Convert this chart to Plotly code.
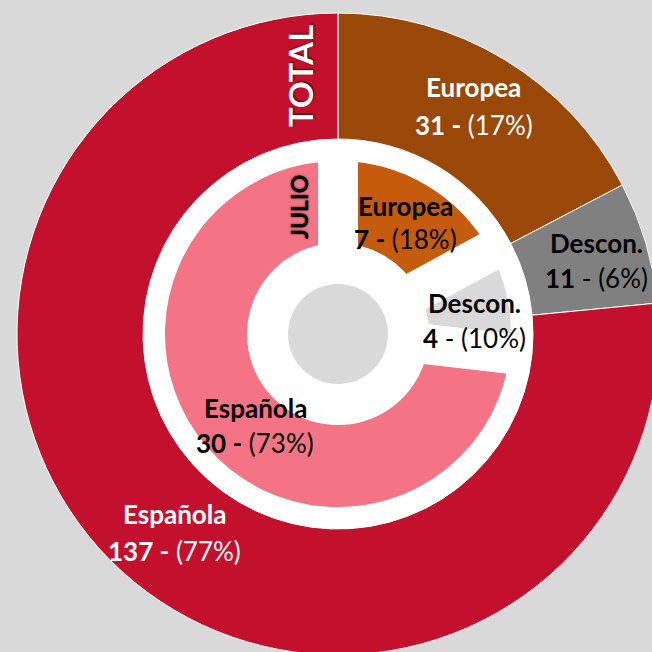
import math
import plotly.graph_objects as go

# ---------------- data ----------------
categories = ["Europea", "Descon.", "Española"]
total_values = [31, 11, 137]
total_pct = ["17%", "6%", "77%"]
julio_values = [7, 4, 30]
julio_pct = ["18%", "10%", "73%"]
ring_titles = ["TOTAL", "JULIO"]

total_colors = ["#994808", "#808080", "#C3112D"]
julio_colors = ["#C55B0C", "#D9D9D9", "#F47385"]
total_text_colors = ["white", "black", "white"]
julio_text_colors = ["black", "black", "black"]

# ---------------- geometry (pixels) ----------------
W = H = 672
CX, CY = 338, 334
R_OUT = 321
R_OUT_HOLE = 195
R_IN = 193          # inner ring outer radius incl. half of the white stroke
R_IN_HOLE = 71
STROKE = 40
R_CENTER = 50
FONT = "Lato"
LABEL_SIZE = 26


def domain(r):
    return dict(x=[(CX - r) / W, (CX + r) / W],
                y=[1 - (CY + r) / H, 1 - (CY - r) / H])


fig = go.Figure()

# white disk behind the inner ring
fig.add_trace(go.Pie(values=[1], marker=dict(colors=["white"], line=dict(width=0)),
                     domain=domain(R_OUT_HOLE + 2), textinfo="none", hoverinfo="skip",
                     sort=False, showlegend=False))
# inner ring (JULIO)
fig.add_trace(go.Pie(labels=categories, values=julio_values, hole=R_IN_HOLE / R_IN,
                     marker=dict(colors=julio_colors, line=dict(color="white", width=STROKE)),
                     domain=domain(R_IN), direction="clockwise", rotation=0, sort=False,
                     textinfo="none", showlegend=False, name="JULIO"))
# grey centre
fig.add_trace(go.Pie(values=[1], marker=dict(colors=["#D9D9D9"], line=dict(width=0)),
                     domain=domain(R_CENTER), textinfo="none", hoverinfo="skip",
                     sort=False, showlegend=False))
# outer ring (TOTAL)
fig.add_trace(go.Pie(labels=categories, values=total_values, hole=R_OUT_HOLE / R_OUT,
                     marker=dict(colors=total_colors, line=dict(color="white", width=1)),
                     domain=domain(R_OUT), direction="clockwise", rotation=0, sort=False,
                     textinfo="none", showlegend=False, name="TOTAL"))

annotations = []


def px_ann(x, y, text, color, size, angle=0, shadow=None):
    f = dict(family=FONT, size=size, color=color)
    if shadow:
        f["shadow"] = shadow
    annotations.append(dict(x=x / W, y=1 - y / H, xref="paper", yref="paper",
                            text=text, showarrow=False, font=f, textangle=angle,
                            xanchor="center", yanchor="middle"))


def ring_labels(values, pcts, colors, r_lab, nudges, gap, bold_dash):
    tot = sum(values)
    cum = 0
    for i, v in enumerate(values):
        mid = (cum + v / 2) / tot * 2 * math.pi
        cum += v
        x = CX + r_lab * math.sin(mid) + nudges[i][0]
        y = CY - r_lab * math.cos(mid) + nudges[i][1]
        px_ann(x, y - gap[i], f"<b>{categories[i]}</b>", colors[i], LABEL_SIZE)
        if bold_dash[i]:
            t2 = f"<b>{v} -</b> ({pcts[i]})"
        else:
            t2 = f"<b>{v}</b> - ({pcts[i]})"
        px_ann(x, y + gap[i], t2, colors[i], LABEL_SIZE)


ring_labels(total_values, total_pct, total_text_colors, (R_OUT + R_OUT_HOLE) / 2,
            [(2, -7), (11, 0), (10, 7)], [19, 17.5, 18.5], [True, False, True])
ring_labels(julio_values, julio_pct, julio_text_colors, (R_IN + R_IN_HOLE) / 2,
            [(0, 2), (7, 12), (16, 4)], [16.5, 17.5, 17.5], [True, False, True])

px_ann(300, 76, f"<b>{ring_titles[0]}</b>", "white", 33, angle=-90,
       shadow="1px 1px 2px rgba(0,0,0,0.7)")
px_ann(299, 207, f"<b>{ring_titles[1]}</b>", "black", 23, angle=-90,
       shadow="0px 0px 2px rgba(0,0,0,0.8)")

fig.update_layout(width=W, height=H, margin=dict(l=0, r=0, t=0, b=0),
                  paper_bgcolor="#D9D9D9", plot_bgcolor="#D9D9D9",
                  annotations=annotations, showlegend=False)

fig.write_html("out.html", config={"displayModeBar": False}, post_script=(
    "document.body.style.margin='0';"
    "document.body.style.overflow='hidden';"
    "document.documentElement.style.overflow='hidden';"))
